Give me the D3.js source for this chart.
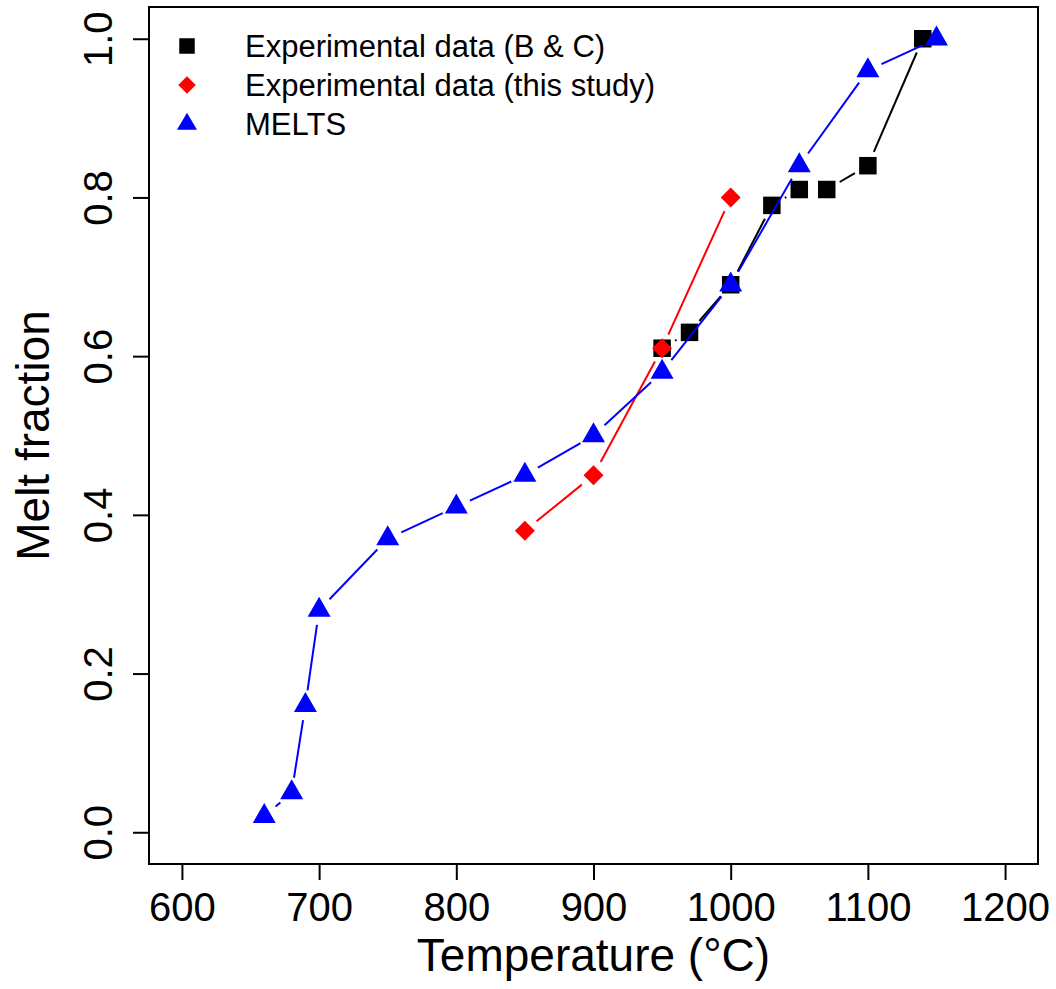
<!DOCTYPE html>
<html>
<head>
<meta charset="utf-8">
<script src="https://cdn.jsdelivr.net/npm/d3@7"></script>
<style>
  body { margin: 0; background: #fff; }
  svg { font-family: "Liberation Sans", Arial, sans-serif; }
</style>
</head>
<body>
<div id="chart"></div>
<script>
// Batiza & C. data, this study, MELTS model
const bcTemp = [950, 970, 1000, 1030, 1050, 1070, 1100, 1140];
const bcMelt = [0.61, 0.63, 0.69, 0.79, 0.81, 0.81, 0.84, 1.0];
const studyTemp = [850, 900, 950, 1000];
const studyMelt = [0.38, 0.45, 0.61, 0.80];
const meltsTemp = [660, 680, 690, 700, 750, 800, 850, 900, 950, 1000, 1050, 1100, 1150];
const meltsMelt = [0.02, 0.05, 0.16, 0.28, 0.37, 0.41, 0.45, 0.50, 0.58, 0.69, 0.84, 0.96, 1.0];

const xTicks = [600, 700, 800, 900, 1000, 1100, 1200];
const yTicks = [0, 0.2, 0.4, 0.6, 0.8, 1.0];
const legendLabels = ['Experimental data (B & C)', 'Experimental data (this study)', 'MELTS'];

const W = 1056, H = 989;
const box = { left: 149, right: 1038, top: 7, bottom: 864 };

const svg = d3.select('#chart').append('svg')
  .attr('width', W)
  .attr('height', H);

// R style: 4% padding around xlim/ylim
const x = d3.scaleLinear().domain([576, 1224]).range([box.left, box.right]);
const y = d3.scaleLinear().domain([-0.04, 1.04]).range([box.bottom, box.top]);

const gap = 15; // type = "b" gap round each point

// symbol paths
function square(s) {
  return `M${-s / 2},${-s / 2}h${s}v${s}h${-s}Z`;
}
function diamond(s) {
  return `M0,${-s / 2}L${s / 2},0L0,${s / 2}L${-s / 2},0Z`;
}
function triangle(w, h) {
  return `M0,${-2 * h / 3}L${w / 2},${h / 3}L${-w / 2},${h / 3}Z`;
}

const series = [
  { xs: bcTemp, ys: bcMelt, color: '#000000', shape: square(17.5), legendShape: square(15.5) },
  { xs: studyTemp, ys: studyMelt, color: '#ff0000', shape: diamond(20), legendShape: diamond(17.5) },
  { xs: meltsTemp, ys: meltsMelt, color: '#0000ff', shape: triangle(23, 20), legendShape: triangle(20, 17) }
];

series.forEach(s => {
  const pts = s.xs.map((t, i) => [x(t), y(s.ys[i])]);
  const segs = [];
  for (let i = 1; i < pts.length; i++) {
    const [x0, y0] = pts[i - 1], [x1, y1] = pts[i];
    const d = Math.hypot(x1 - x0, y1 - y0);
    if (d <= 2 * gap) continue;
    const ux = (x1 - x0) / d, uy = (y1 - y0) / d;
    segs.push([x0 + ux * gap, y0 + uy * gap, x1 - ux * gap, y1 - uy * gap]);
  }
  const g = svg.append('g');
  g.selectAll('line')
    .data(segs)
    .enter()
    .append('line')
    .attr('x1', d => d[0]).attr('y1', d => d[1])
    .attr('x2', d => d[2]).attr('y2', d => d[3])
    .attr('stroke', s.color)
    .attr('stroke-width', 2);
  g.selectAll('path')
    .data(pts)
    .enter()
    .append('path')
    .attr('d', s.shape)
    .attr('transform', d => `translate(${d[0]},${d[1]})`)
    .attr('fill', s.color);
});

// plot box
svg.append('rect')
  .attr('x', box.left).attr('y', box.top)
  .attr('width', box.right - box.left)
  .attr('height', box.bottom - box.top)
  .attr('fill', 'none')
  .attr('stroke', '#000')
  .attr('stroke-width', 2);

// axes
const xAxis = svg.append('g')
  .attr('transform', `translate(0,${box.bottom})`)
  .call(d3.axisBottom(x).tickValues(xTicks).tickSize(16).tickPadding(13).tickFormat(d3.format('d')));

const yAxis = svg.append('g')
  .attr('transform', `translate(${box.left},0)`)
  .call(d3.axisLeft(y).tickValues(yTicks).tickSize(16).tickFormat(d3.format('.1f')));

[xAxis, yAxis].forEach(a => {
  a.select('.domain').remove();
  a.selectAll('.tick line').attr('stroke', '#000').attr('stroke-width', 2);
  a.selectAll('.tick text')
    .attr('fill', '#000')
    .attr('font-size', 40)
    .attr('font-family', '"Liberation Sans", Arial, sans-serif');
});

yAxis.selectAll('.tick text')
  .attr('x', null)
  .attr('dy', null)
  .attr('text-anchor', 'middle')
  .attr('transform', 'translate(-37,0) rotate(-90)');

// axis titles
svg.append('text')
  .attr('x', (box.left + box.right) / 2)
  .attr('y', 971)
  .attr('text-anchor', 'middle')
  .attr('font-size', 46)
  .text('Temperature (°C)');

svg.append('text')
  .attr('transform', `translate(49,${(box.top + box.bottom) / 2}) rotate(-90)`)
  .attr('text-anchor', 'middle')
  .attr('font-size', 46)
  .text('Melt fraction');

// legend, no frame
const legend = svg.append('g');
const legendRows = legend.selectAll('g')
  .data(series)
  .enter()
  .append('g')
  .attr('transform', (d, i) => `translate(187,${46 + i * 39})`);

legendRows.append('path')
  .attr('d', d => d.legendShape)
  .attr('fill', d => d.color);

legendRows.append('text')
  .attr('x', 58)
  .attr('y', 10.5)
  .attr('font-size', 31)
  .text((d, i) => legendLabels[i]);
</script>
</body>
</html>
